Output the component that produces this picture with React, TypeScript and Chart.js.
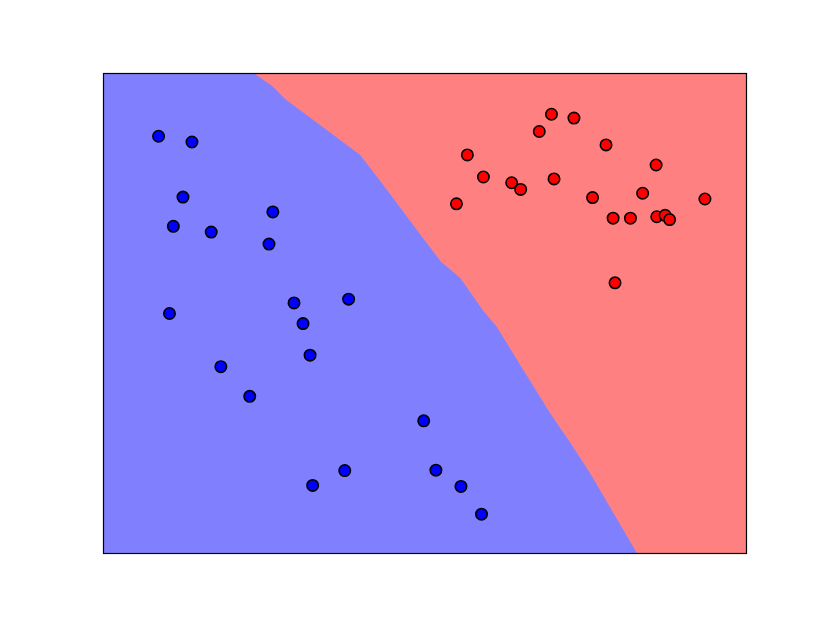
import React, { useEffect, useRef } from "react";
import { Chart, registerables } from "chart.js";

Chart.register(...registerables);

// Class 0 (blue) samples
const blueX = [0.85, 1.37, 1.23, 2.63, 1.08, 1.67, 2.57, 1.02, 2.96, 3.81, 3.10, 3.21, 1.82, 2.27, 4.98, 3.75, 3.25, 5.17, 5.56, 5.88];
const blueY = [8.70, 8.58, 7.43, 7.12, 6.82, 6.70, 6.45, 5.00, 5.22, 5.30, 4.79, 4.13, 3.89, 3.27, 2.76, 1.72, 1.41, 1.73, 1.39, 0.81];

// Class 1 (red) samples
const redX = [6.97, 7.32, 6.78, 7.82, 5.66, 8.60, 5.91, 6.35, 6.49, 7.01, 5.49, 7.61, 8.39, 9.36, 7.93, 8.20, 8.61, 8.74, 8.81, 7.96];
const redY = [9.16, 9.08, 8.80, 8.52, 8.31, 8.10, 7.85, 7.73, 7.59, 7.81, 7.29, 7.42, 7.51, 7.39, 6.99, 6.99, 7.02, 7.05, 6.96, 5.64];

// Decision boundary (red region lies above it)
const boundaryX = [2.35, 2.62, 2.82, 3.05, 3.57, 3.99, 4.30, 4.61, 4.92, 5.25, 5.55, 5.90, 6.12, 6.48, 6.95, 7.31, 7.57, 7.88, 8.30, 10];
const boundaryY = [10, 9.75, 9.48, 9.25, 8.73, 8.31, 7.77, 7.22, 6.66, 6.08, 5.74, 5.07, 4.72, 3.93, 2.92, 2.21, 1.67, 0.96, 0, 0];

const xRange = [0, 10];
const yRange = [0, 10];

const toPts = (xs: number[], ys: number[]) => xs.map((x, i) => ({ x, y: ys[i] }));

const borderPlugin = {
  id: "frameBorder",
  afterDraw(chart: any) {
    const { ctx, chartArea } = chart;
    ctx.save();
    ctx.strokeStyle = "#000";
    ctx.lineWidth = 1.2;
    ctx.strokeRect(
      chartArea.left - 0.5,
      chartArea.top - 0.5,
      chartArea.right - chartArea.left + 1,
      chartArea.bottom - chartArea.top + 1
    );
    ctx.restore();
  },
};

export default function App() {
  const ref = useRef<HTMLCanvasElement | null>(null);

  useEffect(() => {
    if (!ref.current) return;
    const chart = new Chart(ref.current, {
      type: "scatter",
      data: {
        datasets: [
          {
            label: "blue region",
            data: [
              { x: xRange[0], y: yRange[1] },
              { x: xRange[1], y: yRange[1] },
            ],
            showLine: true,
            fill: "start",
            backgroundColor: "rgb(128,128,255)",
            borderColor: "rgba(0,0,0,0)",
            borderWidth: 0,
            pointRadius: 0,
            order: 4,
          },
          {
            label: "red region",
            data: toPts(boundaryX, boundaryY),
            showLine: true,
            fill: "end",
            backgroundColor: "rgb(255,128,128)",
            borderColor: "rgba(0,0,0,0)",
            borderWidth: 0,
            pointRadius: 0,
            tension: 0,
            order: 3,
          },
          {
            label: "class 0",
            data: toPts(blueX, blueY),
            backgroundColor: "#0000ff",
            borderColor: "#000000",
            borderWidth: 1.6,
            pointRadius: 5.7,
            order: 2,
          },
          {
            label: "class 1",
            data: toPts(redX, redY),
            backgroundColor: "#ff0000",
            borderColor: "#000000",
            borderWidth: 1.6,
            pointRadius: 5.7,
            order: 1,
          },
        ],
      },
      options: {
        responsive: false,
        animation: false,
        layout: { padding: { left: 104, top: 74, right: 84, bottom: 70 } },
        plugins: { legend: { display: false }, tooltip: { enabled: false } },
        scales: {
          x: { type: "linear", min: xRange[0], max: xRange[1], display: false },
          y: { type: "linear", min: yRange[0], max: yRange[1], display: false },
        },
      },
      plugins: [borderPlugin],
    });
    return () => chart.destroy();
  }, []);

  return (
    <div style={{ position: "fixed", left: 0, top: 0, width: 830, height: 623, background: "#fff" }}>
      <canvas ref={ref} width={830} height={623} />
    </div>
  );
}
